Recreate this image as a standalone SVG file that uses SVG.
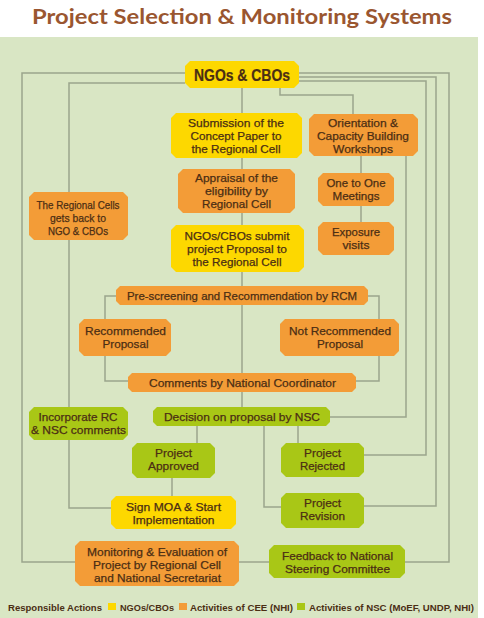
<svg xmlns="http://www.w3.org/2000/svg" width="484" height="618" viewBox="0 0 484 618">
<style>
.y{fill:#fdd800}
.o{fill:#f39c37}
.g{fill:#a9c716}
.t{font-family:"Liberation Sans",Arial,sans-serif;font-size:11.5px;fill:#4b2e14;stroke:#4b2e14;stroke-width:0.25;text-anchor:middle}
.c{fill:none;stroke:#9ba58c;stroke-width:1.5}
.lg{font-family:"Liberation Sans",Arial,sans-serif;font-size:9.8px;font-weight:bold;fill:#4b2e14}
</style>
<rect x="0" y="0" width="484" height="618" fill="#ffffff"/>
<rect x="0" y="37" width="478" height="581" fill="#d9e6c4"/>
<text x="242" y="24" text-anchor="middle" textLength="420" lengthAdjust="spacingAndGlyphs" style="font-family:Lato,'Open Sans',sans-serif;font-size:21px;font-weight:bold;fill:#9a5630">Project Selection &amp; Monitoring Systems</text>
<g id="connectors">
<path class="c" d="M185,73 H22 V562 H75"/>
<path class="c" d="M185,83 H69 V508 H111"/>
<path class="c" d="M299,73 H449 V562 H405"/>
<path class="c" d="M299,77 H436 V506 H364"/>
<path class="c" d="M299,81 H426 V455 H364"/>
<path class="c" d="M280,88 V95 H353 V114"/>
<path class="c" d="M406,156 V417 H330"/>
<path class="c" d="M361,156 V222"/>
<path class="c" d="M242,88 V407"/>
<path class="c" d="M116,296 H105 V381 H128"/>
<path class="c" d="M368,296 H379 V381 H356"/>
<path class="c" d="M197,426 V443"/>
<path class="c" d="M298,426 V443"/>
<path class="c" d="M264,426 V507 H281"/>
<path class="c" d="M172,478 V496"/>
<path class="c" d="M239,562 H269"/>
</g>
<g id="ngos">
<polygon class="y" points="190,61 294,61 299,66 299,83 294,88 190,88 185,83 185,66"/>
<text class="t" x="242" y="81" textLength="96" lengthAdjust="spacingAndGlyphs" style="font-size:16px;font-weight:bold;stroke-width:0.2">NGOs &amp; CBOs</text>
</g>
<g id="submission">
<polygon class="y" points="176,113 297,113 302,118 302,153 297,158 176,158 171,153 171,118"/>
<text class="t" x="236" y="127" textLength="96" lengthAdjust="spacingAndGlyphs">Submission of the</text>
<text class="t" x="236" y="140" textLength="91" lengthAdjust="spacingAndGlyphs">Concept Paper to</text>
<text class="t" x="236" y="153" textLength="89" lengthAdjust="spacingAndGlyphs">the Regional Cell</text>
</g>
<g id="appraisal">
<polygon class="o" points="183,169 290,169 295,174 295,208 290,213 183,213 178,208 178,174"/>
<text class="t" x="236.5" y="182" textLength="83" lengthAdjust="spacingAndGlyphs">Appraisal of the</text>
<text class="t" x="236.5" y="195" textLength="63" lengthAdjust="spacingAndGlyphs">eligibility by</text>
<text class="t" x="236.5" y="208" textLength="69" lengthAdjust="spacingAndGlyphs">Regional Cell</text>
</g>
<g id="proposal">
<polygon class="y" points="176,225 299,225 304,230 304,267 299,272 176,272 171,267 171,230"/>
<text class="t" x="237" y="240" textLength="105" lengthAdjust="spacingAndGlyphs">NGOs/CBOs submit</text>
<text class="t" x="237" y="253" textLength="100" lengthAdjust="spacingAndGlyphs">project Proposal to</text>
<text class="t" x="237" y="266" textLength="89" lengthAdjust="spacingAndGlyphs">the Regional Cell</text>
</g>
<g id="orientation">
<polygon class="o" points="314,114 413,114 418,119 418,151 413,156 314,156 309,151 309,119"/>
<text class="t" x="363" y="127" textLength="70" lengthAdjust="spacingAndGlyphs">Orientation &amp;</text>
<text class="t" x="363" y="140" textLength="92" lengthAdjust="spacingAndGlyphs">Capacity Building</text>
<text class="t" x="363" y="153" textLength="60" lengthAdjust="spacingAndGlyphs">Workshops</text>
</g>
<g id="onetoone">
<polygon class="o" points="323,173 389,173 394,178 394,201 389,206 323,206 318,201 318,178"/>
<text class="t" x="356" y="187" textLength="59" lengthAdjust="spacingAndGlyphs">One to One</text>
<text class="t" x="356" y="200" textLength="47" lengthAdjust="spacingAndGlyphs">Meetings</text>
</g>
<g id="exposure">
<polygon class="o" points="323,222 389,222 394,227 394,250 389,255 323,255 318,250 318,227"/>
<text class="t" x="356" y="236" textLength="48" lengthAdjust="spacingAndGlyphs">Exposure</text>
<text class="t" x="356" y="249" textLength="27" lengthAdjust="spacingAndGlyphs">visits</text>
</g>
<g id="getsback">
<polygon class="o" points="34,192 123,192 128,197 128,235 123,240 34,240 29,235 29,197"/>
<text class="t" x="78" y="209" textLength="83" lengthAdjust="spacingAndGlyphs">The Regional Cells</text>
<text class="t" x="78" y="222" textLength="56" lengthAdjust="spacingAndGlyphs">gets back to</text>
<text class="t" x="78" y="235" textLength="60" lengthAdjust="spacingAndGlyphs">NGO &amp; CBOs</text>
</g>
<g id="prescreening">
<polygon class="o" points="120,286 364,286 368,290 368,301 364,305 120,305 116,301 116,290"/>
<text class="t" x="242" y="300" textLength="230" lengthAdjust="spacingAndGlyphs">Pre-screening and Recommendation by RCM</text>
</g>
<g id="recommended">
<polygon class="o" points="84,319 166,319 171,324 171,351 166,356 84,356 79,351 79,324"/>
<text class="t" x="125.5" y="335" textLength="81" lengthAdjust="spacingAndGlyphs">Recommended</text>
<text class="t" x="125.5" y="348" textLength="46" lengthAdjust="spacingAndGlyphs">Proposal</text>
</g>
<g id="notrecommended">
<polygon class="o" points="285,319 394,319 399,324 399,351 394,356 285,356 280,351 280,324"/>
<text class="t" x="340" y="335" textLength="102" lengthAdjust="spacingAndGlyphs">Not Recommended</text>
<text class="t" x="340" y="348" textLength="46" lengthAdjust="spacingAndGlyphs">Proposal</text>
</g>
<g id="comments">
<polygon class="o" points="132,373 352,373 356,377 356,388 352,392 132,392 128,388 128,377"/>
<text class="t" x="242.5" y="387" textLength="187" lengthAdjust="spacingAndGlyphs">Comments by National Coordinator</text>
</g>
<g id="decision">
<polygon class="g" points="157,407 326,407 330,411 330,422 326,426 157,426 153,422 153,411"/>
<text class="t" x="242" y="421" textLength="156" lengthAdjust="spacingAndGlyphs">Decision on proposal by NSC</text>
</g>
<g id="incorporate">
<polygon class="g" points="34,407 123,407 128,412 128,435 123,440 34,440 29,435 29,412"/>
<text class="t" x="78" y="421" textLength="79" lengthAdjust="spacingAndGlyphs">Incorporate RC</text>
<text class="t" x="78.5" y="434" textLength="95" lengthAdjust="spacingAndGlyphs">&amp; NSC comments</text>
</g>
<g id="approved">
<polygon class="g" points="137,443 210,443 215,448 215,473 210,478 137,478 132,473 132,448"/>
<text class="t" x="173.5" y="457" textLength="37" lengthAdjust="spacingAndGlyphs">Project</text>
<text class="t" x="173.5" y="470" textLength="51" lengthAdjust="spacingAndGlyphs">Approved</text>
</g>
<g id="rejected">
<polygon class="g" points="286,443 359,443 364,448 364,472 359,477 286,477 281,472 281,448"/>
<text class="t" x="322.5" y="457" textLength="37" lengthAdjust="spacingAndGlyphs">Project</text>
<text class="t" x="322.5" y="470" textLength="45" lengthAdjust="spacingAndGlyphs">Rejected</text>
</g>
<g id="signmoa">
<polygon class="y" points="116,496 231,496 236,501 236,524 231,529 116,529 111,524 111,501"/>
<text class="t" x="173.5" y="511" textLength="95" lengthAdjust="spacingAndGlyphs">Sign MOA &amp; Start</text>
<text class="t" x="173.5" y="524" textLength="82" lengthAdjust="spacingAndGlyphs">Implementation</text>
</g>
<g id="revision">
<polygon class="g" points="286,493 359,493 364,498 364,523 359,528 286,528 281,523 281,498"/>
<text class="t" x="322.5" y="507" textLength="37" lengthAdjust="spacingAndGlyphs">Project</text>
<text class="t" x="322.5" y="520" textLength="45" lengthAdjust="spacingAndGlyphs">Revision</text>
</g>
<g id="monitoring">
<polygon class="o" points="80,541 234,541 239,546 239,581 234,586 80,586 75,581 75,546"/>
<text class="t" x="157" y="556" textLength="140" lengthAdjust="spacingAndGlyphs">Monitoring &amp; Evaluation of</text>
<text class="t" x="157" y="569" textLength="128" lengthAdjust="spacingAndGlyphs">Project by Regional Cell</text>
<text class="t" x="157.5" y="582" textLength="127" lengthAdjust="spacingAndGlyphs">and National Secretariat</text>
</g>
<g id="feedback">
<polygon class="g" points="274,545 400,545 405,550 405,573 400,578 274,578 269,573 269,550"/>
<text class="t" x="337.5" y="560" textLength="111" lengthAdjust="spacingAndGlyphs">Feedback to National</text>
<text class="t" x="337.5" y="573" textLength="105" lengthAdjust="spacingAndGlyphs">Steering Committee</text>
</g>
<g id="legend">
<text class="lg" x="8" y="611" textLength="94" lengthAdjust="spacingAndGlyphs">Responsible Actions</text>
<rect class="y" x="108" y="603" width="8" height="7"/>
<text class="lg" x="120" y="611" textLength="54" lengthAdjust="spacingAndGlyphs">NGOs/CBOs</text>
<rect class="o" x="179" y="603" width="8" height="7"/>
<text class="lg" x="190" y="611" textLength="103" lengthAdjust="spacingAndGlyphs">Activities of CEE (NHI)</text>
<rect class="g" x="297" y="603" width="8" height="7"/>
<text class="lg" x="309" y="611" textLength="165" lengthAdjust="spacingAndGlyphs">Activities of NSC (MoEF, UNDP, NHI)</text>
</g>
</svg>
